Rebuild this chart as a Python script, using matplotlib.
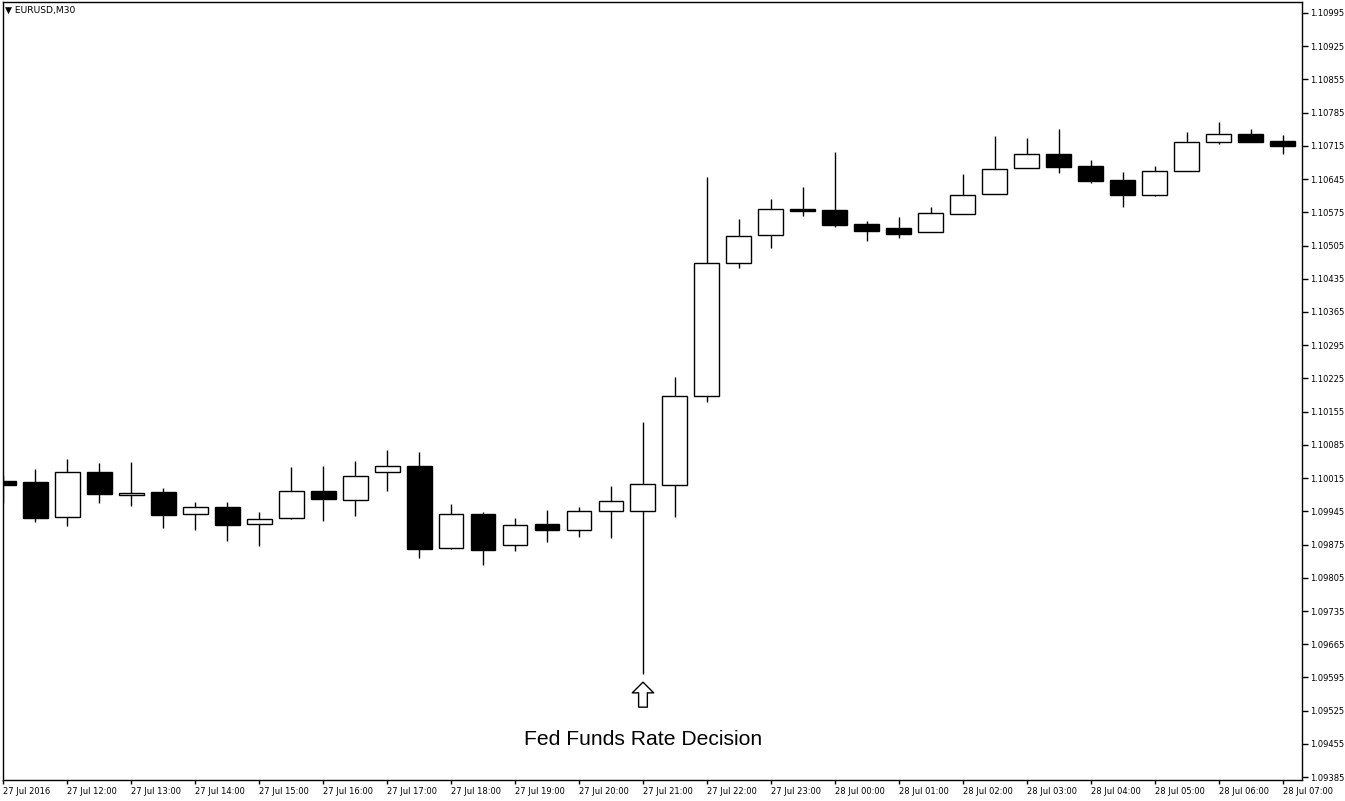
import matplotlib

matplotlib.use("Agg")
import numpy as np
from matplotlib import pyplot as plt
from matplotlib.transforms import offset_copy

# EURUSD M30 candles, 27 Jul 2016 11:00 .. 28 Jul 2016 07:00
opens = [1.10009, 1.10007, 1.09933, 1.10028, 1.09979, 1.09986, 1.09939, 1.09954,
         1.09918, 1.09931, 1.09988, 1.09969, 1.10028, 1.10041, 1.09868, 1.09939,
         1.09874, 1.09918, 1.09906, 1.09946, 1.09946, 1.10001, 1.10188, 1.10468,
         1.10527, 1.10582, 1.10580, 1.10550, 1.10542, 1.10533, 1.10571, 1.10614,
         1.10668, 1.10698, 1.10673, 1.10643, 1.10612, 1.10662, 1.10723, 1.10740,
         1.10725]
highs = [1.10022, 1.10034, 1.10055, 1.10047, 1.10049, 1.09994, 1.09965, 1.09965,
         1.09944, 1.10038, 1.10041, 1.10051, 1.10074, 1.10070, 1.09960, 1.09944,
         1.09931, 1.09948, 1.09954, 1.09998, 1.10133, 1.10228, 1.10649, 1.10561,
         1.10603, 1.10628, 1.10702, 1.10557, 1.10565, 1.10586, 1.10656, 1.10736,
         1.10731, 1.10751, 1.10685, 1.10660, 1.10673, 1.10745, 1.10765, 1.10751,
         1.10738]
lows = [1.09963, 1.09923, 1.09914, 1.09963, 1.09956, 1.09910, 1.09906, 1.09883,
        1.09872, 1.09929, 1.09925, 1.09935, 1.09988, 1.09847, 1.09866, 1.09832,
        1.09862, 1.09880, 1.09891, 1.09889, 1.09602, 1.09933, 1.10175, 1.10458,
        1.10500, 1.10567, 1.10544, 1.10515, 1.10521, 1.10533, 1.10571, 1.10614,
        1.10668, 1.10658, 1.10637, 1.10586, 1.10609, 1.10662, 1.10719, 1.10723,
        1.10698]
closes = [1.10001, 1.09931, 1.10028, 1.09981, 1.09984, 1.09937, 1.09954, 1.09916,
          1.09929, 1.09988, 1.09971, 1.10019, 1.10041, 1.09866, 1.09939, 1.09864,
          1.09916, 1.09906, 1.09946, 1.09967, 1.10003, 1.10188, 1.10468, 1.10525,
          1.10582, 1.10578, 1.10548, 1.10536, 1.10529, 1.10574, 1.10612, 1.10666,
          1.10698, 1.10671, 1.10641, 1.10612, 1.10662, 1.10723, 1.10740, 1.10723,
          1.10714]

time_labels = ["27 Jul 2016", "27 Jul 12:00", "27 Jul 13:00", "27 Jul 14:00",
               "27 Jul 15:00", "27 Jul 16:00", "27 Jul 17:00", "27 Jul 18:00",
               "27 Jul 19:00", "27 Jul 20:00", "27 Jul 21:00", "27 Jul 22:00",
               "27 Jul 23:00", "28 Jul 00:00", "28 Jul 01:00", "28 Jul 02:00",
               "28 Jul 03:00", "28 Jul 04:00", "28 Jul 05:00", "28 Jul 06:00",
               "28 Jul 07:00"]
price_ticks = np.round(np.arange(1.09385, 1.11000, 0.0007), 5)

event_label = "Fed Funds Rate Decision"
event_index = 20
symbol_label = "\u25bc EURUSD,M30"

W, H = 1345, 801
fig = plt.figure(figsize=(W / 100, H / 100), dpi=100)
ax = fig.add_axes([2.5 / W, (H - 780) / H, (1302 - 2.5) / W, (780 - 2) / H])

o = np.array(opens)
c = np.array(closes)
x = np.arange(len(o))
bull = c >= o
body_lo = np.minimum(o, c)
body_h = np.maximum(np.abs(c - o), 0.000012)

ax.vlines(x, lows, highs, color="black", lw=1.0, zorder=1)
ax.bar(x, body_h, bottom=body_lo, width=0.78,
       color=np.where(bull, "white", "black"), edgecolor="black",
       linewidth=1.0, zorder=2)

ax.set_xlim(-0.02, 40.6)
ax.set_ylim(1.09379, 1.11018)

tick_font = dict(family="DejaVu Sans", size=6.0)
ax.set_xticks(x[::2])
ax.set_xticklabels(time_labels, ha="left", **tick_font)
ax.yaxis.tick_right()
ax.set_yticks(price_ticks)
ax.set_yticklabels([f"{v:.5f}" for v in price_ticks], **tick_font)
ax.tick_params(axis="x", direction="out", length=3, width=1, pad=2)
ax.tick_params(axis="y", direction="out", length=4, width=1, pad=1.5)
for sp in ax.spines.values():
    sp.set_color("black")
    sp.set_linewidth(1.0)

ax.text(3 / 1300, 0.995, symbol_label, transform=ax.transAxes,
        ha="left", va="top", family="DejaVu Sans", size=6.6)

# hollow arrow under the spike, then the event caption
arrow_base = offset_copy(ax.transData, fig=fig, x=0, y=-8, units="dots")
ax.annotate("", xy=(event_index, lows[event_index]), xycoords=arrow_base,
            xytext=(0, -18), textcoords="offset points",
            arrowprops=dict(arrowstyle="simple,head_length=0.55,head_width=1.1,tail_width=0.45",
                            fc="white", ec="black", lw=1.0,
                            shrinkA=0, shrinkB=0, mutation_scale=14))
ax.annotate(event_label, xy=(event_index, lows[event_index]),
            xytext=(0, -47), textcoords="offset points",
            ha="center", va="center", family="Liberation Sans", fontsize=15.2)

fig.savefig("out.png", dpi=100)
